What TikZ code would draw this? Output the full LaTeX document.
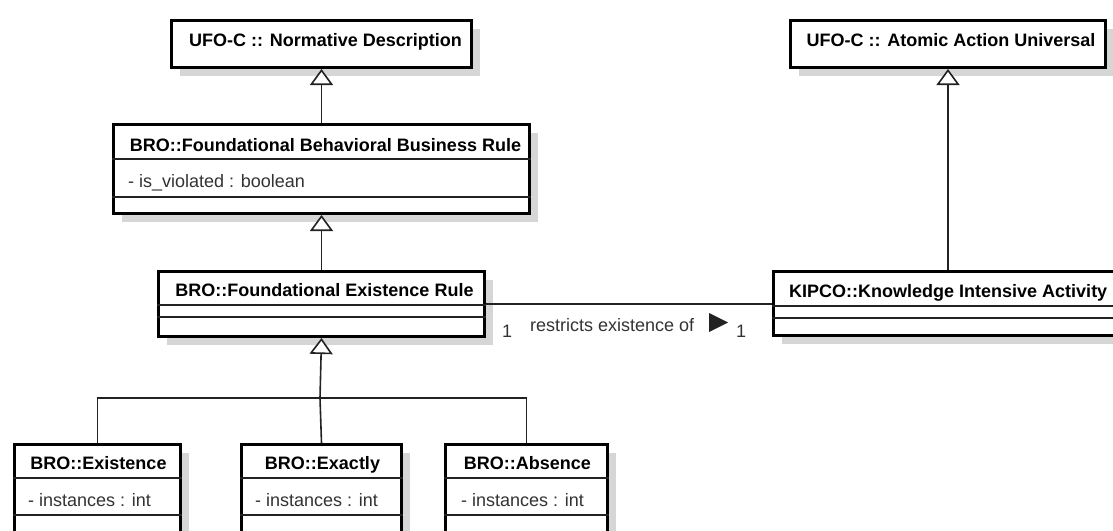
\documentclass[tikz,border=0pt]{standalone}
\usepackage{fontspec}
\setmainfont{Liberation Sans}
\usetikzlibrary{arrows.meta,calc,shadows}
\definecolor{shade}{HTML}{D6D6D6}
\definecolor{ink}{HTML}{222222}
\definecolor{attrink}{HTML}{333333}

\begin{document}
\begin{tikzpicture}[x=1pt,y=-1pt,
  classbox/.style={draw=black, line width=3pt, fill=white, inner sep=0pt, anchor=north west,
    general shadow={fill=shade, shadow xshift=8pt, shadow yshift=-8pt}},
  compart/.style={draw=ink, line width=1.4pt},
  titletext/.style={font=\bfseries\fontsize{18}{21}\selectfont, inner sep=0pt, anchor=base},
  plaintext/.style={font=\fontsize{18}{21}\selectfont, text=attrink, inner sep=0pt, anchor=base west},
  multtext/.style={font=\fontsize{18}{21}\selectfont, text=attrink, inner sep=0pt, anchor=base},
  link/.style={draw=ink, line width=1.6pt},
  gen/.style={link, -{Triangle[open, width=23pt, length=16pt, fill=white]}},
]
\useasboundingbox (0,0) rectangle (1113,530);
\clip (0,0) rectangle (1113,530);

% class boxes
\node[classbox, minimum width=300pt, minimum height=47pt] (nd)  at (170,19)  {};
\node[classbox, minimum width=315pt, minimum height=47pt] (aau) at (789,19)  {};
\node[classbox, minimum width=416pt, minimum height=89pt] (bbr) at (112,123) {};
\node[classbox, minimum width=326pt, minimum height=65pt] (fer) at (157,270) {};
\node[classbox, minimum width=356pt, minimum height=64pt] (kia) at (772,270) {};
\node[classbox, minimum width=166pt, minimum height=100pt] (ex)  at (13,443)  {};
\node[classbox, minimum width=160pt, minimum height=100pt] (exa) at (240,443) {};
\node[classbox, minimum width=162pt, minimum height=100pt] (ab)  at (444,443) {};

% compartment separators
\foreach \b/\d in {bbr/36, bbr/74, fer/35, fer/47, kia/36, kia/48,
                   ex/35, ex/72, exa/35, exa/72, ab/35, ab/72}
  \draw[compart] ($(\b.north west)+(0,\d)$) -- ($(\b.north east)+(0,\d)$);

% class names
\node[titletext] (ndT)  at ($(nd.north)+(4,27)$)  {UFO-C :: Normative Description};
\node[titletext] (aauT) at ($(aau.north)+(3,27)$) {UFO-C :: Atomic Action Universal};
\node[titletext] (bbrT) at ($(bbr.north)+(4,28)$) {BRO::Foundational Behavioral Business Rule};
\node[titletext] (ferT) at ($(fer.north)+(3,26)$) {BRO::Foundational Existence Rule};
\node[titletext, anchor=base west] (kiaT) at ($(kia.north west)+(17,27)$) {KIPCO::Knowledge Intensive Activity};
\node[titletext] (exT)  at ($(ex.north)+(1,26)$)  {BRO::Existence};
\node[titletext] (exaT) at ($(exa.north)+(1,26)$) {BRO::Exactly};
\node[titletext] (abT)  at ($(ab.north)+(1,26)$)  {BRO::Absence};

% attributes
\node[plaintext] (bbrA) at ($(bbr.north west)+(16,64)$) {- is\_violated : boolean};
\node[plaintext] (exA)  at ($(ex.north west)+(15,63)$)  {- instances : int};
\node[plaintext] (exaA) at ($(exa.north west)+(15,63)$) {- instances : int};
\node[plaintext] (abA)  at ($(ab.north west)+(17,63)$)  {- instances : int};

% generalizations
\draw[gen] (bbr.north) -- (nd.south);
\draw[gen] (fer.north) -- (bbr.south);
\draw[gen] (aau.south |- kia.north) -- (aau.south);
\coordinate (jn) at (320,398);
\draw[gen] (jn) -- (fer.south);
\draw[link] (ex.north) |- (jn) -| (ab.north);
\draw[link] (exa.north) -- (jn);

% association
\draw[link] (fer.east) -- (fer.east -| kia.west);
\node[multtext] (m1) at (507,337) {1};
\node[multtext] (m2) at (741,337) {1};
\node[plaintext] (as) at (530,331) {restricts existence of};
\fill[ink] (709,313) -- (728,322.5) -- (709,332) -- cycle;
\end{tikzpicture}
\end{document}
